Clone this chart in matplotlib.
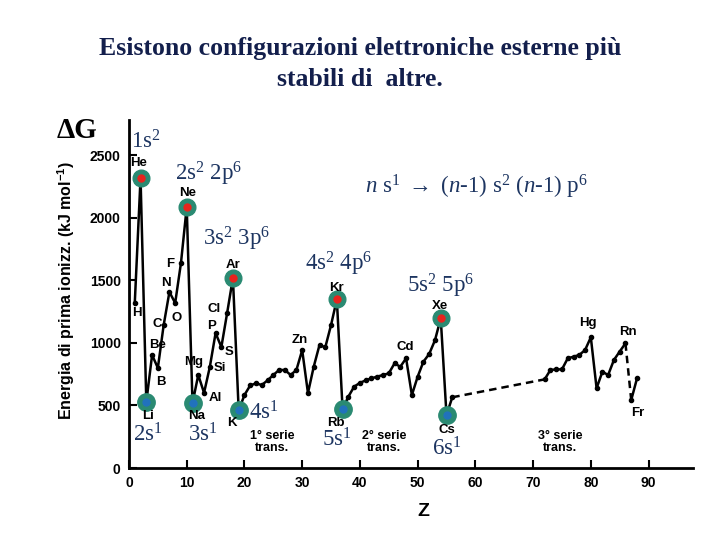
import matplotlib
matplotlib.use("Agg")
import matplotlib.pyplot as plt

plt.rcParams['mathtext.fontset'] = 'custom'
plt.rcParams['mathtext.rm'] = 'Liberation Serif'
plt.rcParams['mathtext.it'] = 'Liberation Serif:italic'
plt.rcParams['mathtext.bf'] = 'Liberation Serif:bold'

# ---- data ----
z_main = list(range(1, 57))          # H .. Ba
e_main = [1318, 2316,
          527, 903, 799, 1140, 1406, 1318, 1637, 2085,
          519, 743, 600, 807, 1078, 966, 1238, 1518,
          460, 583, 660, 676, 663, 700, 743, 783, 783, 743, 783, 942,
          599, 809, 983, 964, 1142, 1347,
          471, 570, 650, 680, 700, 716, 730, 743, 756, 836, 809, 876,
          583, 729, 849, 911, 1020, 1196,
          423, 565]
z_gap1 = [56, 72]
e_gap1 = [565, 708]
z_p6 = list(range(72, 87))           # Hf .. Rn
e_p6 = [708, 783, 788, 788, 876, 889, 903, 942, 1044,
        637, 769, 743, 863, 930, 996]
z_gap2 = [86, 87]
e_gap2 = [996, 543]
z_p7 = [87, 88]
e_p7 = [543, 716]

noble_z = [2, 10, 18, 36, 54]
alkali_z = [3, 11, 19, 37, 55]

element_labels = {
    'He': (139, 163), 'Ne': (188, 193), 'Ar': (233, 265), 'Kr': (336, 288),
    'Xe': (440, 306), 'H': (137, 313), 'Li': (148, 416), 'Be': (158, 345),
    'B': (161, 382), 'C': (157, 324), 'N': (166, 283), 'O': (177, 318),
    'F': (170, 264), 'Mg': (194, 362), 'Na': (197, 416), 'Al': (215, 398),
    'Si': (220, 368), 'S': (229, 352), 'P': (212, 326), 'Cl': (214, 309),
    'K': (232, 423), 'Zn': (300, 340), 'Rb': (336, 423), 'Cd': (405, 347),
    'Cs': (447, 430), 'Hg': (588, 323), 'Rn': (628, 332), 'Fr': (638, 413),
}
series_labels = [("1° serie\ntrans.", (272, 442)),
                 ("2° serie\ntrans.", (384, 442)),
                 ("3° serie\ntrans.", (560, 442))]

config_labels = [
    (r'1s$^2$', (131, 142)), (r'2s$^2$ 2p$^6$', (175, 174)),
    (r'3s$^2$ 3p$^6$', (203, 239)), (r'4s$^2$ 4p$^6$', (305, 264)),
    (r'5s$^2$ 5p$^6$', (407, 286)),
    (r'2s$^1$', (133, 435)), (r'3s$^1$', (188, 435)), (r'4s$^1$', (249, 413)),
    (r'5s$^1$', (322, 440)), (r'6s$^1$', (432, 449)),
]

x_ticks = [0, 10, 20, 30, 40, 50, 60, 70, 80, 90]
y_ticks = [0, 500, 1000, 1500, 2000, 2500]

# ---- figure ----
fig = plt.figure(figsize=(7.2, 5.4), dpi=100)
W, H = 720, 540
def fp(x, y):
    return x / W, 1 - y / H

ax = fig.add_axes([129 / W, 1 - 468 / H, (693 - 129) / W, (468 - 120) / H])
ax.set_xlim(0, 97.7)
ax.set_ylim(0, 2780)
for s in ['top', 'right']:
    ax.spines[s].set_visible(False)
for s in ['left', 'bottom']:
    ax.spines[s].set_linewidth(2)

lw = 1.8
ax.plot(z_main, e_main, color='black', lw=lw, marker='o', ms=3)
ax.plot(z_gap1, e_gap1, color='black', lw=lw, ls=(0, (3, 2)))
ax.plot(z_p6, e_p6, color='black', lw=lw, marker='o', ms=3)
ax.plot(z_gap2, e_gap2, color='black', lw=lw, ls=(0, (3, 2)))
ax.plot(z_p7, e_p7, color='black', lw=lw, marker='o', ms=3)

zall = z_main + z_p6 + z_p7
eall = e_main + e_p6 + e_p7
lookup = dict(zip(zall, eall))
teal = '#2a8a72'
for z in noble_z:
    ax.plot(z, lookup[z], 'o', ms=12, color=teal, zorder=5)
    ax.plot(z, lookup[z], 'o', ms=5, color='#e8231d', zorder=6)
for z in alkali_z:
    ax.plot(z, lookup[z], 'o', ms=12.5, color=teal, zorder=5)
    ax.plot(z, lookup[z], 'o', ms=6, color='#1f6ccf', mec='none', alpha=0.8, zorder=6)

ax.set_xticks(x_ticks)
ax.set_yticks(y_ticks)
ax.tick_params(direction='in', length=6, width=1.5, labelsize=10, pad=6)
for lab in ax.get_xticklabels() + ax.get_yticklabels():
    lab.set_fontfamily('Liberation Sans')
    lab.set_fontweight('bold')

# axis labels
fig.text(*fp(423, 511), 'Z', ha='center', va='center', fontsize=14,
         fontweight='bold', family='Liberation Sans')
fig.text(*fp(66, 290), r'Energia di prima ionizz. (kJ mol$\mathregular{^{-1}}$)',
         rotation=90, ha='center', va='center', fontsize=11.5,
         fontweight='bold', family='Liberation Sans')
fig.text(*fp(77, 131), 'ΔG', ha='center', va='center', fontsize=21,
         fontweight='bold', family='Liberation Serif')

# title
title_color = '#131f4c'
fig.text(*fp(360, 48), 'Esistono configurazioni elettroniche esterne più',
         ha='center', va='center', fontsize=18.5, fontweight='bold',
         family='Liberation Serif', color=title_color)
fig.text(*fp(360, 79), 'stabili di  altre.', ha='center', va='center',
         fontsize=18.5, fontweight='bold', family='Liberation Serif',
         color=title_color)

# element labels
for name, (x, y) in element_labels.items():
    fig.text(*fp(x, y), name, ha='center', va='center', fontsize=9.5,
             fontweight='bold', family='Liberation Sans')
for txt, (x, y) in series_labels:
    fig.text(*fp(x, y), txt, ha='center', va='center', fontsize=9,
             fontweight='bold', family='Liberation Sans', linespacing=0.95)

# configuration labels
blue = '#1d3561'
for txt, (x, y) in config_labels:
    fig.text(*fp(x, y), txt, ha='left', va='center', fontsize=16.5,
             family='Liberation Serif', color=blue)
fig.text(*fp(365, 187),
         r'$n$ s$^1$ $\rightarrow$ ($n$-$1$) s$^2$ ($n$-$1$) p$^6$',
         ha='left', va='center', fontsize=16.5, family='Liberation Serif',
         color=blue)

fig.savefig('out.png', dpi=100)
